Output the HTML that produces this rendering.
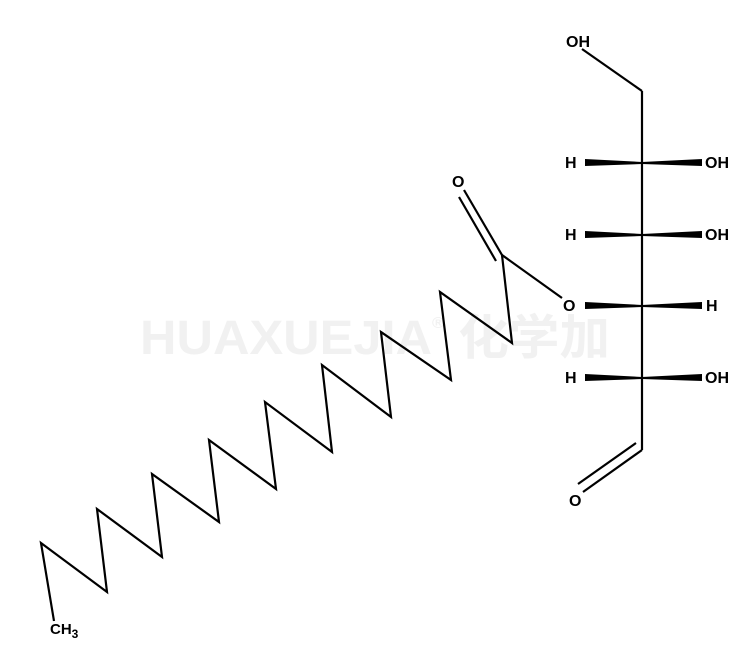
<!DOCTYPE html>
<html><head><style>html,body{margin:0;padding:0;background:#fff}svg{display:block}</style></head>
<body>
<svg width="752" height="668" viewBox="0 0 752 668" xmlns="http://www.w3.org/2000/svg">
<text x="140" y="354" font-family="Liberation Sans, Noto Sans CJK SC, sans-serif" font-weight="bold" font-size="48" fill="#f1f1f1" textLength="470" lengthAdjust="spacingAndGlyphs">HUAXUEJIA<tspan font-size="16" dy="-26">®</tspan><tspan dy="26"> 化学加</tspan></text>
<g stroke="#000" stroke-width="2.2" fill="none" stroke-linejoin="miter">
<polyline points="54,621 41,543 107,592 97,509 162,557 152,474 219,522 209,440 276,489 265,402 332,452 322,365 391,417 381,332 451,380 440,292 512,343 502,255 562,298"/>
<line x1="502" y1="255" x2="464" y2="190"/>
<line x1="582" y1="49" x2="642" y2="91"/>
<line x1="642" y1="91" x2="642" y2="450"/>
<line x1="642" y1="450" x2="583" y2="492"/>
<line x1="496" y1="261" x2="459" y2="197"/>
<line x1="636" y1="443" x2="578" y2="484"/>
</g>
<g fill="#000">
<polygon points="642,162 585,159 585,166 642,164"/>
<polygon points="642,162 702,159 702,166 642,164"/>
<polygon points="642,234 585,231 585,238 642,236"/>
<polygon points="642,234 702,231 702,238 642,236"/>
<polygon points="642,305 585,302 585,309 642,307"/>
<polygon points="642,305 702,302 702,309 642,307"/>
<polygon points="642,377 585,374 585,381 642,379"/>
<polygon points="642,377 702,374 702,381 642,379"/>
</g>
<g font-family="Liberation Sans, sans-serif" font-weight="bold" font-size="16" fill="#000">
<text x="566" y="47">OH</text>
<text x="565" y="168">H</text><text x="705" y="168">OH</text>
<text x="565" y="240">H</text><text x="705" y="240">OH</text>
<text x="563" y="311">O</text><text x="706" y="311">H</text>
<text x="565" y="383">H</text><text x="705" y="383">OH</text>
<text x="452" y="187">O</text>
<text x="569" y="506">O</text>
<text x="50" y="634" font-size="15">CH<tspan font-size="12" dy="4">3</tspan></text>
</g>
</svg>
</body></html>
